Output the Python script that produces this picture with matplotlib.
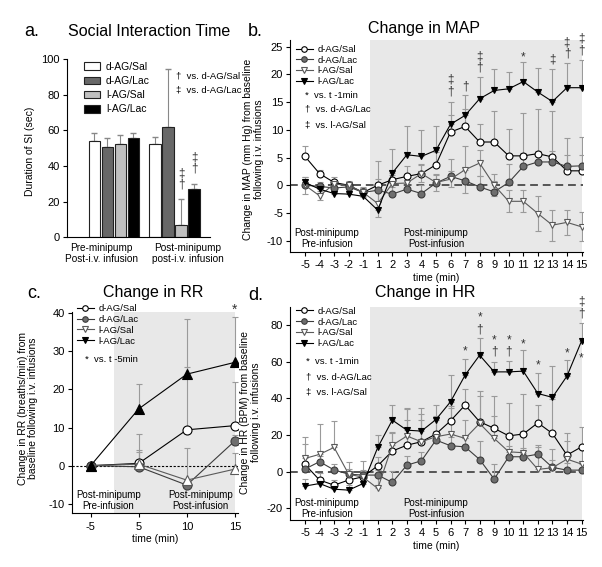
import matplotlib
matplotlib.use('Agg')
import matplotlib.pyplot as plt
from matplotlib.lines import Line2D
from matplotlib.patches import Patch
import numpy as np

plt.rcParams['font.family'] = ['Liberation Sans', 'DejaVu Sans']
plt.rcParams['axes.unicode_minus'] = False

groups = ['d-AG/Sal', 'd-AG/Lac', 'l-AG/Sal', 'l-AG/Lac']

# a. social interaction time
si_conditions = ['Pre-minipump\nPost-i.v. infusion', 'Post-minipump\npost-i.v. infusion']
si_means = [[54.0, 52.2], [50.5, 62.0], [52.5, 7.0], [55.5, 27.0]]
si_errs = [[4.5, 4.3], [5.0, 32.4], [5.0, 14.4], [3.3, 3.0]]

# b. change in MAP / d. change in HR (one value per minute)
time_labels = ['-5', '-4', '-3', '-2', '-1', '1', '2', '3', '4', '5', '6', '7',
               '8', '9', '10', '11', '12', '13', '14', '15']

map_dsal = [5.2, 2.1, 0.5, 0.0, -1.3, 0.0, 1.0, 1.6, 2.1, 3.7, 9.6, 10.6, 7.8, 7.8, 5.3, 5.3, 5.7, 5.1, 2.6, 2.6]
map_dlac = [0.0, -0.2, -0.5, -0.3, -1.3, -0.9, -1.6, -0.7, -1.5, 0.4, 1.6, 0.8, -0.3, -1.2, 0.5, 3.4, 4.2, 4.2, 3.4, 3.5]
map_lsal = [0.0, -1.9, 0.2, 0.0, -1.3, -3.3, 0.3, 0.4, 2.1, 0.5, 1.1, 2.8, 4.0, 0.0, -2.9, -2.9, -5.1, -7.2, -6.7, -7.5]
map_llac = [0.5, -0.7, -1.5, -1.6, -2.0, -4.5, 2.2, 5.5, 5.2, 6.3, 11.0, 12.6, 15.6, 17.1, 17.4, 18.7, 16.8, 15.1, 17.6, 17.6]
map_dsal_err = [1.8, 0.6, 1.0, 0.5, 1.0, 1.2, 1.6, 1.8, 1.8, 2.3, 3.0, 3.1, 3.2, 5.6, 4.8, 7.7, 8.0, 8.3, 6.0, 6.1]
map_dlac_err = [1.0, 0.8, 0.8, 0.8, 0.8, 1.0, 1.2, 1.5, 1.5, 1.5, 3.2, 2.0, 2.0, 2.0, 3.4, 2.5, 2.0, 2.0, 2.0, 2.0]
map_lsal_err = [1.5, 0.8, 0.8, 0.8, 0.8, 2.5, 1.5, 1.5, 1.5, 1.5, 1.5, 4.2, 2.4, 2.0, 2.0, 2.0, 3.2, 2.8, 2.2, 2.6]
map_llac_err = [1.0, 0.5, 0.8, 1.0, 0.9, 8.8, 4.4, 5.2, 4.7, 4.4, 4.0, 3.6, 3.9, 3.8, 3.0, 3.6, 4.4, 5.8, 4.5, 5.0]

hr_dsal = [4.0, -4.5, -7.3, -4.5, -2.7, 3.3, 11.3, 14.5, 16.4, 20.6, 27.8, 36.4, 27.3, 23.7, 19.6, 20.6, 26.7, 20.9, 9.1, 13.6]
hr_dlac = [1.5, 5.5, 1.0, -1.3, -1.8, -1.8, -5.8, 3.6, 6.0, 17.3, 14.2, 13.6, 6.7, -4.0, 8.2, 8.2, 9.6, 2.4, 0.9, 0.9]
hr_lsal = [7.3, 9.5, 13.3, -1.3, -3.0, -9.1, 14.5, 19.5, 16.4, 19.1, 20.6, 18.2, 26.4, 18.2, 10.9, 10.4, 1.3, 2.2, 6.9, 4.2]
hr_llac = [-7.8, -6.4, -9.5, -10.0, -6.4, 13.3, 28.2, 22.7, 22.2, 28.5, 38.2, 52.7, 63.6, 54.5, 54.5, 54.9, 42.7, 40.6, 52.2, 71.3]
hr_dsal_err = [11.0, 4.0, 3.0, 3.0, 3.0, 5.0, 10.0, 14.0, 12.0, 10.0, 8.0, 9.0, 17.0, 17.6, 17.7, 22.0, 10.0, 19.0, 12.0, 10.6]
hr_dlac_err = [3.0, 3.0, 3.0, 3.0, 3.0, 4.0, 6.0, 5.0, 5.0, 5.0, 5.0, 5.0, 10.0, 8.0, 6.0, 5.0, 5.0, 4.0, 4.0, 4.0]
hr_lsal_err = [11.5, 16.5, 14.3, 6.5, 9.0, 10.0, 7.0, 15.0, 15.0, 10.0, 14.0, 10.0, 15.0, 12.0, 10.0, 12.0, 12.0, 10.0, 10.0, 10.0]
hr_llac_err = [4.0, 3.0, 3.0, 3.0, 3.0, 7.0, 8.5, 12.0, 12.4, 8.0, 14.5, 9.0, 9.5, 5.5, 6.0, 11.8, 11.0, 17.0, 8.7, 9.6]

# c. change in RR
rr_labels = ['-5', '5', '10', '15']
rr_dsal = [0.0, 0.6, 9.4, 10.5]
rr_dlac = [0.0, -0.3, -5.1, 6.5]
rr_lsal = [0.0, 0.4, -3.8, -0.9]
rr_llac = [0.0, 14.9, 24.0, 27.1]
rr_dsal_err = [0.0, 7.7, 16.6, 11.5]
rr_dlac_err = [0.0, 3.8, 1.5, 1.5]
rr_lsal_err = [0.0, 3.8, 8.4, 4.2]
rr_llac_err = [0.0, 6.5, 14.5, 12.0]

# significance marks: (time index, y of the stack centre, symbols top to bottom)
map_marks = [(10, 18.0, '‡\n†'), (11, 17.9, '†'), (12, 22.2, '‡\n†'), (15, 23.0, '*'),
             (17, 22.6, '‡'), (18, 24.8, '‡\n†'), (19, 25.4, '‡\n†')]
hr_marks = [(11, 65.5, '*'), (12, 80.8, '*\n†'), (13, 68.5, '*\n†'), (14, 68.5, '*\n†'),
            (15, 69.4, '*'), (16, 57.8, '*'), (18, 64.5, '*'), (19, 89.6, '‡\n†'), (19, 61.8, '*')]

SHADE = '#e8e8e8'
ERRC = '#9a9a9a'
styles = {
    'd-AG/Sal': dict(color='black', marker='o', mfc='white', mec='black'),
    'd-AG/Lac': dict(color='#3c3c3c', marker='o', mfc='#6e6e6e', mec='#3c3c3c'),
    'l-AG/Sal': dict(color='#5a5a5a', marker='v', mfc='white', mec='#5a5a5a'),
    'l-AG/Lac': dict(color='black', marker='v', mfc='black', mec='black'),
}


def clean_axes(ax):
    ax.spines['top'].set_visible(False)
    ax.spines['right'].set_visible(False)
    ax.tick_params(direction='out', length=3, width=0.8, labelsize=8, pad=2)


def add_series(ax, x, y, err, style, marker=None, ms=5, both=False):
    err = np.array(err)
    yerr = err if both else [np.zeros_like(err), err]
    ax.errorbar(x, y, yerr=yerr, fmt='none', ecolor=ERRC, elinewidth=0.8,
                capsize=2.5, capthick=0.8, zorder=2)
    st = dict(style)
    if marker:
        st['marker'] = marker
    ax.plot(x, y, lw=0.8, ms=ms, mew=0.8, zorder=3, **st)


def legend_handles():
    return [Line2D([], [], lw=0.8, ms=4, mew=0.8, **styles[g]) for g in groups]


def stat_notes(ax, x, rows):
    # small key for the significance symbols
    for yy, txt in rows:
        ax.text(x, yy, txt, transform=ax.transAxes, fontsize=6.8, va='center')


def timecourse_panel(ax, series, errs, ylim, yticks, ylabel, marks, pre_y, lsal_both, leg_y):
    x = np.arange(len(time_labels))
    ax.axvspan(4.5, 19.0, color=SHADE, lw=0, zorder=0)
    ax.axhline(0, color='#555555', lw=1.4, ls=(0, (4, 2.5)), zorder=1)
    for g, y, e in zip(groups, series, errs):
        add_series(ax, x, y, e, styles[g], both=(lsal_both and g == 'l-AG/Sal'))
    ax.set_xlim(-1.03, 19.1)
    ax.set_ylim(*ylim)
    ax.set_yticks(yticks)
    ax.set_xticks(x)
    ax.set_xticklabels(time_labels)
    ax.set_ylabel(ylabel, fontsize=7.5, linespacing=1.1)
    ax.set_xlabel('time (min)', fontsize=7.5, labelpad=2)
    clean_axes(ax)
    ax.tick_params(axis='x', pad=3)
    ax.text(1.5, pre_y, 'Post-minipump\nPre-infusion', ha='center', va='center', fontsize=7, linespacing=1.15)
    ax.text(9.0, pre_y, 'Post-minipump\nPost-infusion', ha='center', va='center', fontsize=7, linespacing=1.15)
    for xi, yi, s in marks:
        ax.text(xi, yi, s, ha='center', va='center', fontsize=8.5, color='#333333',
                linespacing=0.95, clip_on=False)
    ax.legend(legend_handles(), groups, loc='upper left', bbox_to_anchor=(0.02, leg_y),
              frameon=False, fontsize=6.8, handlelength=1.8, handletextpad=0.5,
              labelspacing=0.18, borderpad=0, borderaxespad=0)


fig = plt.figure(figsize=(6.02, 5.67), dpi=100)

# ---------- a. Social interaction time ----------
ax_a = fig.add_axes([0.111, 0.5815, 0.238, 0.314])
pos = np.arange(len(si_conditions))
offsets = [-0.32, -0.107, 0.107, 0.32]
bar_colors = ['white', '#686868', '#c0c0c0', 'black']
for i, g in enumerate(groups):
    ax_a.bar(pos + offsets[i], si_means[i], width=0.19, color=bar_colors[i],
             edgecolor='#222222', linewidth=0.8, zorder=2)
    ax_a.errorbar(pos + offsets[i], si_means[i], yerr=[np.zeros(2), si_errs[i]], fmt='none',
                  ecolor='#888888', elinewidth=0.8, capsize=2.5, capthick=1.0, zorder=1)
ax_a.set_xlim(-0.776, 1.585)
ax_a.set_ylim(0, 100)
ax_a.set_yticks(range(0, 101, 20))
ax_a.set_xticks(pos + np.array([-0.21, 0.22]))
ax_a.set_xticklabels(si_conditions, linespacing=1.15)
clean_axes(ax_a)
ax_a.tick_params(axis='x', length=0, labelsize=7.2, pad=4)
ax_a.set_ylabel('Duration of SI (sec)', fontsize=7.5)
ax_a.yaxis.set_label_coords(-0.22, 0.485)
ax_a.legend([Patch(facecolor=c, edgecolor='#222222', lw=0.8) for c in bar_colors], groups,
            loc='upper left', bbox_to_anchor=(0.12, 0.985), frameon=False, fontsize=7.5,
            handlelength=1.5, handleheight=0.75, handletextpad=0.6, labelspacing=0.4,
            borderpad=0, borderaxespad=0)
stat_notes(ax_a, 0.76, [(0.905, '†  vs. d-AG/Sal'), (0.825, '‡  vs. d-AG/Lac')])
for xi, yi, s in [(1.107, 32.8, '‡\n†'), (1.32, 41.8, '‡\n†')]:
    ax_a.text(xi, yi, s, ha='center', va='center', fontsize=8.5, color='#333333', linespacing=0.95)

# ---------- b. Change in MAP ----------
ax_b = fig.add_axes([0.4817, 0.556, 0.4867, 0.3734])
timecourse_panel(ax_b, [map_dsal, map_dlac, map_lsal, map_llac],
                 [map_dsal_err, map_dlac_err, map_lsal_err, map_llac_err],
                 (-12, 26.2), range(-10, 26, 5),
                 'Change in MAP (mm Hg) from baseline\nfollowing i.v. infusions', map_marks, -9.6, True, 0.977)
ax_b.yaxis.set_label_coords(-0.09, 0.485)
stat_notes(ax_b, 0.05, [(0.739, '*  vs. t -1min'), (0.672, '†  vs. d-AG/Lac'), (0.6, '‡  vs. l-AG/Sal')])

# ---------- c. Change in RR ----------
ax_c = fig.add_axes([0.119, 0.0947, 0.276, 0.355])
xr = np.arange(len(rr_labels))
ax_c.axvspan(0.49, 3.0, color=SHADE, lw=0, zorder=0)
ax_c.axhline(0, color='black', lw=0.8, ls=(0, (2, 1.5)), zorder=1)
for g, y, e in zip(groups, [rr_dsal, rr_dlac, rr_lsal, rr_llac],
                   [rr_dsal_err, rr_dlac_err, rr_lsal_err, rr_llac_err]):
    mk = '^' if g.startswith('l') else 'o'
    add_series(ax_c, xr, y, e, styles[g], marker=mk, ms=6.5)
ax_c.set_xlim(-0.395, 3.06)
ax_c.set_ylim(-12.5, 40.3)
ax_c.set_yticks(range(-10, 41, 10))
ax_c.set_xticks(xr)
ax_c.set_xticklabels(rr_labels)
clean_axes(ax_c)
ax_c.tick_params(axis='x', pad=3)
ax_c.set_ylabel('Change in RR (breaths/min) from\nbaseline following i.v. infusions', fontsize=7.5, linespacing=1.1)
ax_c.yaxis.set_label_coords(-0.2, 0.52)
ax_c.set_xlabel('time (min)', fontsize=7.5, labelpad=2)
ax_c.text(0.37, -9.2, 'Post-minipump\nPre-infusion', ha='center', va='center', fontsize=7, linespacing=1.15)
ax_c.text(2.29, -9.2, 'Post-minipump\nPost-infusion', ha='center', va='center', fontsize=7, linespacing=1.15)
ax_c.text(3.0, 40.9, '*', ha='center', va='center', fontsize=10, color='#333333', clip_on=False)
ax_c.legend(legend_handles(), groups, loc='upper left', bbox_to_anchor=(0.03, 1.04),
            frameon=False, fontsize=6.8, handlelength=1.8, handletextpad=0.5,
            labelspacing=0.2, borderpad=0, borderaxespad=0)
stat_notes(ax_c, 0.08, [(0.766, '*  vs. t -5min')])

# ---------- d. Change in HR ----------
ax_d = fig.add_axes([0.4817, 0.0829, 0.4867, 0.376])
timecourse_panel(ax_d, [hr_dsal, hr_dlac, hr_lsal, hr_llac],
                 [hr_dsal_err, hr_dlac_err, hr_lsal_err, hr_llac_err],
                 (-26.3, 90), range(-20, 81, 20),
                 'Change in HR (BPM) from baseline\nfollowing i.v. infusions', hr_marks, -20.2, False, 1.0)
ax_d.yaxis.set_label_coords(-0.1, 0.506)
stat_notes(ax_d, 0.055, [(0.742, '*  vs. t -1min'), (0.670, '†  vs. d-AG/Lac'), (0.6, '‡  vs. l-AG/Sal')])

# panel letters and titles
for x, y, s in [(0.04, 0.945, 'a.'), (0.412, 0.945, 'b.'), (0.045, 0.482, 'c.'), (0.412, 0.478, 'd.')]:
    fig.text(x, y, s, fontsize=13, va='center')
for x, y, s in [(0.248, 0.945, 'Social Interaction Time'), (0.704, 0.95, 'Change in MAP'),
                (0.255, 0.484, 'Change in RR'), (0.706, 0.484, 'Change in HR')]:
    fig.text(x, y, s, fontsize=11.5, ha='center', va='center')

fig.savefig('out.png', dpi=100)
